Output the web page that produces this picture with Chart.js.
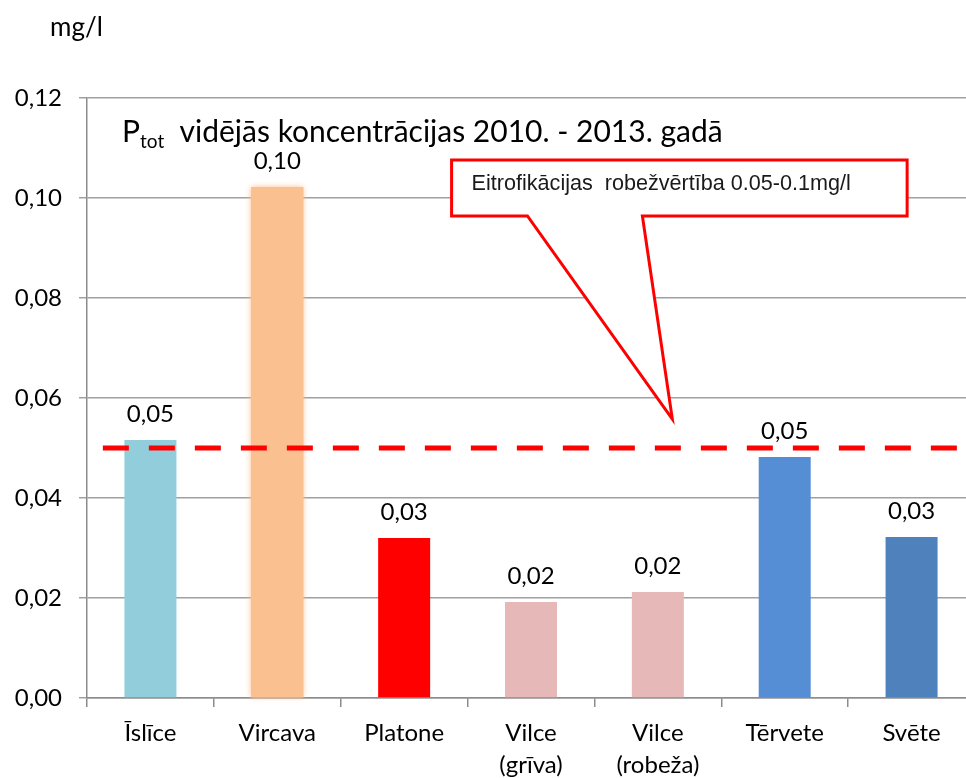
<!DOCTYPE html>
<html>
<head>
<meta charset="utf-8">
<script src="https://cdn.jsdelivr.net/npm/chart.js@4"></script>
<style>
  html, body { margin: 0; padding: 0; background: #fff; overflow: hidden; }
  #wrap { width: 980px; height: 778px; position: relative; }
</style>
</head>
<body>
<div id="wrap"><canvas id="chart"></canvas></div>
<script>
// data
const categories = ['Īslīce', 'Vircava', 'Platone', ['Vilce', '(grīva)'], ['Vilce', '(robeža)'], 'Tērvete', 'Svēte'];
const ptotValues = [0.0516, 0.1022, 0.032, 0.0192, 0.0212, 0.0482, 0.0322];
const barColors = ['#92CDDC', '#FAC090', '#FF0000', '#E6B9B8', '#E6B9B8', '#558ED5', '#4F81BD'];
const yMin = 0, yMax = 0.12, yStep = 0.02;
const threshold = 0.05;
const unitLabel = 'mg/l';
const titleMain = 'P', titleSub = 'tot', titleRest = '  vidējās koncentrācijas 2010. - 2013. gadā';
const calloutText = 'Eitrofikācijas  robežvērtība 0.05-0.1mg/l';

const mainFont = 'Lato, "Open Sans", sans-serif';

function fmt(v) {
    return v.toFixed(2).replace('.', ',');
}

// red dashed threshold line
const thresholdLine = {
    id: 'thresholdLine',
    afterDatasetsDraw(chart) {
        let ctx = chart.ctx
        let x = chart.scales.x
        let y = chart.scales.y.getPixelForValue(threshold)
        ctx.save()
        ctx.strokeStyle = '#FF0000'
        ctx.lineWidth = 5
        ctx.setLineDash([26, 20])
        ctx.beginPath()
        ctx.moveTo(x.getPixelForValue(-0.375), y)
        ctx.lineTo(chart.width, y)
        ctx.stroke()
        ctx.restore()
    }
}

// values above bars, title, unit, callout
const extras = {
    id: 'extras',
    afterDraw(chart) {
        let ctx = chart.ctx
        let x = chart.scales.x
        let y = chart.scales.y
        let area = chart.chartArea
        ctx.save()

        // data labels
        ctx.fillStyle = '#000'
        ctx.font = '24px ' + mainFont
        ctx.textAlign = 'center'
        ctx.textBaseline = 'bottom'
        chart.getDatasetMeta(0).data.forEach((bar, i) => {
            ctx.fillText(fmt(ptotValues[i]), bar.x, bar.y - 14)
        })

        // unit
        ctx.textAlign = 'left'
        ctx.textBaseline = 'middle'
        ctx.font = '26px ' + mainFont
        ctx.fillText(unitLabel, 50, 28)

        // title with subscript
        ctx.textBaseline = 'alphabetic'
        let tx = area.left + 35, ty = area.top + 44
        ctx.font = '30px ' + mainFont
        ctx.fillText(titleMain, tx, ty)
        tx += ctx.measureText(titleMain).width
        ctx.font = '19px ' + mainFont
        ctx.fillText(titleSub, tx, ty + 6)
        tx += ctx.measureText(titleSub).width
        ctx.font = '30px ' + mainFont
        ctx.fillText(titleRest, tx, ty)

        // callout box
        let bl = x.getPixelForValue(2.374), br = x.getPixelForValue(5.965)
        let bt = y.getPixelForValue(0.1076), bb = y.getPixelForValue(0.0964)
        let p1 = x.getPixelForValue(2.972), p2 = x.getPixelForValue(3.878)
        let tipX = x.getPixelForValue(4.114), tipY = y.getPixelForValue(0.0558)
        ctx.beginPath()
        ctx.moveTo(bl, bt)
        ctx.lineTo(br, bt)
        ctx.lineTo(br, bb)
        ctx.lineTo(p2, bb)
        ctx.lineTo(tipX, tipY)
        ctx.lineTo(p1, bb)
        ctx.lineTo(bl, bb)
        ctx.closePath()
        ctx.fillStyle = '#fff'
        ctx.fill()
        ctx.strokeStyle = '#FF0000'
        ctx.lineWidth = 3
        ctx.lineJoin = 'miter'
        ctx.stroke()
        ctx.fillStyle = '#1a1a1a'
        ctx.font = '21.6px "Liberation Sans", Arial, sans-serif'
        ctx.textBaseline = 'middle'
        ctx.fillText(calloutText, bl + 20, bt + 24)

        ctx.restore()
    }
}

// soft edge on the Vircava bar
const softEdge = {
    id: 'softEdge',
    beforeDatasetsDraw(chart) {
        let ctx = chart.ctx
        let bar = chart.getDatasetMeta(0).data[1]
        ctx.save()
        ctx.shadowColor = barColors[1]
        ctx.shadowBlur = 6
        ctx.fillStyle = barColors[1]
        ctx.fillRect(bar.x - bar.width / 2, bar.y, bar.width, bar.base - bar.y)
        ctx.restore()
    }
}

const data = {
    labels: categories,
    datasets: [{
        label: 'Ptot',
        data: ptotValues,
        backgroundColor: barColors,
        borderWidth: 0,
        categoryPercentage: 1,
        barPercentage: 0.41
    }]
}

const config = {
    type: 'bar',
    data: data,
    options: {
        responsive: true,
        maintainAspectRatio: false,
        animation: false,
        layout: { padding: { top: 98, right: 5, left: 0, bottom: 0 } },
        plugins: {
            legend: { display: false },
            tooltip: { enabled: false }
        },
        scales: {
            x: {
                afterFit: s => { s.height = 80 },
                grid: { drawOnChartArea: false, color: '#8c8c8c', tickLength: 9, lineWidth: 1.5 },
                border: { color: '#8c8c8c', width: 1.5 },
                ticks: {
                    color: '#000',
                    font: { family: mainFont, size: 24, lineHeight: 1.3 },
                    padding: 11,
                    maxRotation: 0,
                    autoSkip: false
                }
            },
            y: {
                min: yMin,
                max: yMax,
                afterFit: s => { s.width = 87 },
                grid: { color: '#a0a0a0', lineWidth: 1.5, tickLength: 8 },
                border: { color: '#8c8c8c', width: 1.5 },
                ticks: {
                    stepSize: yStep,
                    color: '#000',
                    padding: 17,
                    font: { family: mainFont, size: 24 },
                    callback: v => fmt(v)
                }
            }
        }
    },
    plugins: [softEdge, thresholdLine, extras]
}

let ch = document.getElementById('chart').getContext('2d')
new Chart(ch, config)
</script>
</body>
</html>
